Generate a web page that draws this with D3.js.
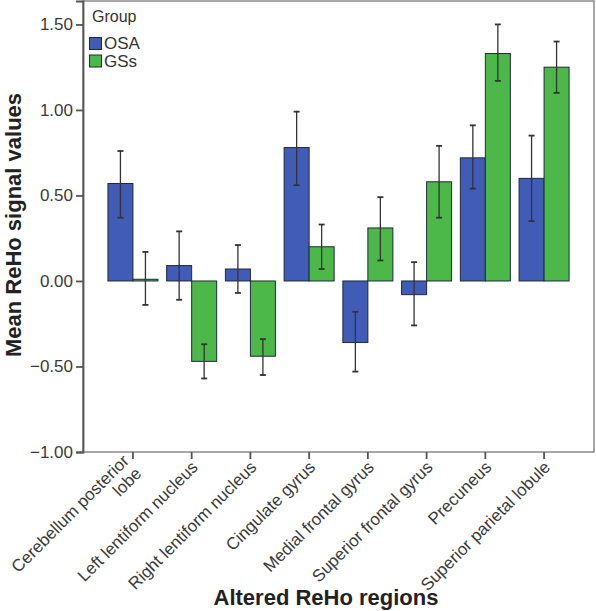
<!DOCTYPE html>
<html><head><meta charset="utf-8">
<script src="https://cdn.jsdelivr.net/npm/d3@7"></script>
<style>body{margin:0;background:#fff}svg{display:block;font-family:"Liberation Sans",Arial,sans-serif}</style>
</head><body><svg id="c" width="596" height="611"></svg>
<script>
const categories = ["Cerebellum posterior|lobe","Left lentiform nucleus","Right lentiform nucleus","Cingulate gyrus","Medial frontal gyrus","Superior frontal gyrus","Precuneus","Superior parietal lobule"];
const groups = ["OSA","GSs"];
const osaMean = [0.57, 0.09, 0.07, 0.78, -0.36, -0.08, 0.72, 0.60];
const osaHigh = [0.76, 0.29, 0.21, 0.99, -0.18, 0.11, 0.91, 0.85];
const osaLow  = [0.37, -0.11, -0.07, 0.56, -0.53, -0.26, 0.54, 0.35];
const gssMean = [0.01, -0.47, -0.44, 0.20, 0.31, 0.58, 1.33, 1.25];
const gssHigh = [0.17, -0.37, -0.34, 0.33, 0.49, 0.79, 1.50, 1.40];
const gssLow  = [-0.14, -0.57, -0.55, 0.07, 0.12, 0.37, 1.17, 1.10];
const yTicks = [-1.0, -0.5, 0, 0.5, 1.0, 1.5];
const colors = {OSA:"#405cb6", GSs:"#4cb84a"};

const svg = d3.select("#c");
const L=83, R=594, T=1, B=452;
const y = d3.scaleLinear().domain([-1.0, 1.637]).range([B, T]);
const x = d3.scaleBand().domain(categories).range([L, R]).paddingOuter(0.35).paddingInner(0);
const xi = d3.scaleBand().domain(groups).range([0, 50]);
const off = (x.bandwidth()-50)/2;

const data = [];
categories.forEach((c,i)=>{
  data.push({c, g:"OSA", v:osaMean[i], hi:osaHigh[i], lo:osaLow[i]});
  data.push({c, g:"GSs", v:gssMean[i], hi:gssHigh[i], lo:gssLow[i]});
});

// bars
svg.append("g").selectAll("rect").data(data).join("rect")
  .attr("x", d=>x(d.c)+off+xi(d.g))
  .attr("width", xi.bandwidth())
  .attr("y", d=>y(Math.max(0,d.v)))
  .attr("height", d=>Math.abs(y(d.v)-y(0)))
  .attr("fill", d=>colors[d.g])
  .attr("stroke", "#1e2a3a").attr("stroke-width",1);

// error bars
const eb = svg.append("g").attr("stroke","#333").attr("stroke-width",1.3);
data.forEach(d=>{
  const cx = x(d.c)+off+xi(d.g)+xi.bandwidth()/2;
  eb.append("line").attr("x1",cx).attr("x2",cx).attr("y1",y(d.hi)).attr("y2",y(d.lo));
  eb.append("line").attr("x1",cx-3).attr("x2",cx+3).attr("y1",y(d.hi)).attr("y2",y(d.hi)).attr("stroke-width",1.8);
  eb.append("line").attr("x1",cx-3).attr("x2",cx+3).attr("y1",y(d.lo)).attr("y2",y(d.lo)).attr("stroke-width",1.8);
});

// frame
svg.append("rect").attr("x",L).attr("y",T).attr("width",R-L).attr("height",B-T)
  .attr("fill","none").attr("stroke","#8a8a8a").attr("stroke-width",1.5);

// y axis
const ya = svg.append("g").attr("transform",`translate(${L},0)`)
  .call(d3.axisLeft(y).tickValues(yTicks).tickFormat(d=>d3.format(".2f")(d).replace("-","\u2212")).tickSize(7).tickPadding(3));
ya.select(".domain").attr("stroke","#555").attr("stroke-width",1.8);
ya.selectAll(".tick line").attr("stroke","#555").attr("stroke-width",1.8);
ya.selectAll(".tick text").attr("font-size",17).attr("fill","#3a3a3a").attr("font-family","Liberation Sans, Arial, sans-serif");

// x axis
const xa = svg.append("g").attr("transform",`translate(0,${B})`)
  .call(d3.axisBottom(x).tickSize(7).tickFormat(""));
xa.select(".domain").remove();
xa.selectAll(".tick line").attr("stroke","#555").attr("stroke-width",1.8);
const xl = svg.append("g");
categories.forEach(c=>{
  const cx = x(c)+x.bandwidth()/2;
  const parts = c.split("|");
  const t = xl.append("text")
    .attr("transform", parts.length>1 ? `translate(${cx-3},${B+10}) rotate(-45)` : `translate(${cx+3},${B+12}) rotate(-45)`)
    .attr("text-anchor","end").attr("font-size",17).attr("fill","#3a3a3a");
  parts.forEach((p,k)=>{
    t.append("tspan").attr("x",0).attr("dy", k===0? (parts.length>1? "0em":"0.35em") : "1.05em").text(p);
  });
});

// axis titles
svg.append("text").attr("x",326).attr("y",605).attr("text-anchor","middle")
  .attr("font-size",22).attr("font-weight","bold").attr("fill","#222").text("Altered ReHo regions");
svg.append("text").attr("transform","translate(21,225) rotate(-90)").attr("text-anchor","middle")
  .attr("font-size",22).attr("font-weight","bold").attr("fill","#222").text("Mean ReHo signal values");

// legend
const lg = svg.append("g");
lg.append("text").attr("x",92).attr("y",22).attr("font-size",16).attr("fill","#333").text("Group");
groups.forEach((g,i)=>{
  lg.append("rect").attr("x",89.5).attr("y",37.5+i*17.5).attr("width",12).attr("height",12)
    .attr("fill",colors[g]).attr("stroke","#1e2a3a").attr("stroke-width",1);
  lg.append("text").attr("x",104).attr("y",49+i*17.5).attr("font-size",17).attr("fill","#333").text(g);
});
</script></body></html>
